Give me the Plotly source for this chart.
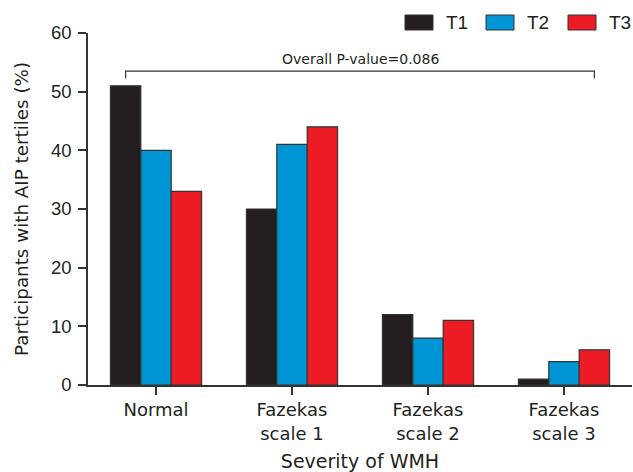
import plotly.graph_objects as go

categories = ["Normal", "Fazekas<br>scale 1", "Fazekas<br>scale 2", "Fazekas<br>scale 3"]
t1 = [51, 30, 12, 1]
t2 = [40, 41, 8, 4]
t3 = [33, 44, 11, 6]
series_names = ["T1", "T2", "T3"]
colors = ["#231f20", "#0096d6", "#ed1c24"]
p_text = "Overall P-value=0.086"
y_ticks = [0, 10, 20, 30, 40, 50, 60]

WFONT = "DejaVu Sans, Verdana, sans-serif"
NFONT = "Liberation Sans, Arial, sans-serif"
TXT = "#231f20"
bargap = 0.33

fig = go.Figure()
for name, vals, c in zip(series_names, [t1, t2, t3], colors):
    fig.add_trace(go.Bar(x=list(range(len(categories))), y=vals, name=name,
                         marker=dict(color=c, line=dict(color="#333333", width=1.2)),
                         showlegend=False, hoverinfo="skip"))

bw = (1 - bargap) / 3
# bracket over groups
x0 = 0 - bw
x1 = 3 + bw
fig.add_shape(type="path",
              path=f"M {x0},52.3 L {x0},53.5 L {x1},53.5 L {x1},52.3",
              xref="x", yref="y", line=dict(color="#333333", width=1.2))
fig.add_annotation(x=1.5, y=55.6, xref="x", yref="y", text=p_text, showarrow=False,
                   font=dict(size=14, color=TXT, family=WFONT))

# custom legend
leg_x = [405, 486, 568]
for (lx, name, c) in zip(leg_x, series_names, colors):
    fig.add_shape(type="rect", xref="paper", yref="paper",
                  x0=(lx - 88) / 544, x1=(lx + 28 - 88) / 544,
                  y0=(385 - 30) / 352, y1=(385 - 15) / 352,
                  fillcolor=c, line=dict(color="#333333", width=1))
    fig.add_annotation(xref="paper", yref="paper", x=(lx + 39 - 88) / 544, y=(385 - 22.5) / 352,
                       text=name, showarrow=False, xanchor="left", yanchor="middle",
                       font=dict(size=19, color=TXT, family=NFONT))

fig.update_layout(
    width=633, height=472,
    margin=dict(l=88, r=1, t=33, b=87),
    paper_bgcolor="white", plot_bgcolor="white",
    barmode="group", bargap=bargap, bargroupgap=0,
    font=dict(family=WFONT, color=TXT),
    xaxis=dict(tickmode="array", tickvals=list(range(len(categories))), ticktext=categories,
               range=[-0.5, 3.5], showline=True, linecolor="#333333", linewidth=1.5,
               ticks="outside", tickson="boundaries", ticklen=8, tickcolor="#333333", tickwidth=1.5,
               tickfont=dict(size=18, family=WFONT, color=TXT),
               title=dict(text="Severity of WMH", font=dict(size=19, family=WFONT, color=TXT), standoff=12),
               showgrid=False, zeroline=False),
    yaxis=dict(range=[0, 60], tickvals=y_ticks, showline=True, linecolor="#333333", linewidth=1.5,
               ticks="outside", ticklen=8, tickcolor="#333333", tickwidth=1.5,
               ticklabelstandoff=3,
               tickfont=dict(size=18.5, family=NFONT, color=TXT),
               title=dict(text="Participants with AIP tertiles (%)", font=dict(size=18.3, family=WFONT, color=TXT), standoff=18),
               showgrid=False, zeroline=False),
)

fig.write_html("out.html", config={"displayModeBar": False},
               post_script="document.body.style.margin='0';")
